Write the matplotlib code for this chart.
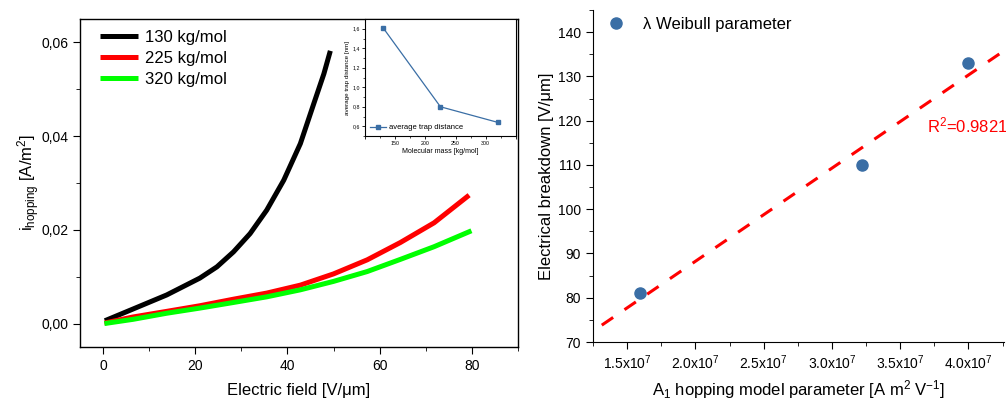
import numpy as np
import matplotlib
matplotlib.use("Agg")
import matplotlib.pyplot as plt
from matplotlib.ticker import MultipleLocator, FuncFormatter

plt.rcParams['font.family'] = ['Liberation Sans', 'DejaVu Sans']
plt.rcParams['mathtext.fontset'] = 'custom'
plt.rcParams['mathtext.rm'] = 'Liberation Sans'
plt.rcParams['mathtext.it'] = 'Liberation Sans:italic'
plt.rcParams['mathtext.bf'] = 'Liberation Sans:bold'

# hopping current vs field, one curve per molecular mass
field_130 = [0.4, 6.5, 13.8, 21.0, 24.7, 28.3, 31.9, 35.5, 39.2, 42.8, 45.7, 47.9, 49.3]
curr_130 = [0.0006, 0.0031, 0.0061, 0.0097, 0.0121, 0.0153, 0.0192, 0.0242,
            0.0306, 0.0384, 0.0469, 0.0533, 0.0582]
field_225 = [0.3, 6.5, 13.8, 21.0, 28.3, 35.5, 42.8, 50.0, 57.3, 64.5, 71.8, 79.4]
curr_225 = [0.0001, 0.0014, 0.0026, 0.0038, 0.0052, 0.0065, 0.0082, 0.0106,
            0.0136, 0.0173, 0.0215, 0.0274]
field_320 = [0.3, 6.5, 13.8, 21.0, 28.3, 35.5, 42.8, 50.0, 57.3, 64.5, 71.8, 79.9]
curr_320 = [0.0000, 0.0009, 0.0022, 0.0033, 0.0045, 0.0057, 0.0072, 0.0090,
            0.0111, 0.0137, 0.0164, 0.0198]
curve_labels = ['130 kg/mol', '225 kg/mol', '320 kg/mol']
curve_colors = ['#000000', '#ff0000', '#00ff00']

# inset: trap distance vs molecular mass
mol_mass = [130, 225, 320]
trap_dist = [1.61, 0.80, 0.64]

# breakdown field vs A1 parameter
a1_param = [1.595e7, 3.223e7, 4.0e7]
breakdown = [81, 110, 133]
r2_text = 'R$^2$=0.9821'

fig = plt.figure(figsize=(10.06, 4.01), dpi=100)

# ---- left panel ----
ax = fig.add_axes([0.0795, 0.1347, 0.4354, 0.818])
for xs, ys, lab, col in zip([field_130, field_225, field_320],
                            [curr_130, curr_225, curr_320],
                            curve_labels, curve_colors):
    ax.plot(xs, ys, color=col, lw=3.6, label=lab, solid_capstyle='butt',
            solid_joinstyle='round')
ax.set_xlim(-5, 90)
ax.set_ylim(-0.005, 0.065)
ax.xaxis.set_major_locator(MultipleLocator(20))
ax.xaxis.set_minor_locator(MultipleLocator(10))
ax.yaxis.set_major_locator(MultipleLocator(0.02))
ax.yaxis.set_minor_locator(MultipleLocator(0.01))
ax.yaxis.set_major_formatter(FuncFormatter(lambda v, p: f'{v:.2f}'.replace('.', ',')))
ax.tick_params(which='major', direction='out', length=5, labelsize=10)
ax.tick_params(which='minor', direction='out', length=3)
ax.set_xlabel('Electric field [V/μm]', fontsize=12, labelpad=7)
ax.set_ylabel(r'i$_{\mathrm{hopping}}$ [A/m$^2$]', fontsize=12, labelpad=-1)
for s in ax.spines.values():
    s.set_linewidth(1.0)
ax.legend(loc='upper left', bbox_to_anchor=(0.02, 1.0), frameon=False,
          fontsize=12, handlelength=2.3, handletextpad=0.45,
          labelspacing=0.36, borderaxespad=0.25)

# inset
ins = fig.add_axes([0.3628, 0.6608, 0.150, 0.2918])
ins.plot(mol_mass, trap_dist, color='#3a6ea5', lw=0.9, marker='s', ms=2.2,
         label='average trap distance')
ins.set_xlim(100, 350)
ins.set_ylim(0.5, 1.7)
ins.xaxis.set_major_locator(MultipleLocator(50))
ins.xaxis.set_minor_locator(MultipleLocator(25))
ins.yaxis.set_major_locator(MultipleLocator(0.2))
ins.yaxis.set_minor_locator(MultipleLocator(0.1))
ins.xaxis.set_major_formatter(FuncFormatter(
    lambda v, p: f'{v:.0f}' if 150 <= v <= 300 else ''))
ins.yaxis.set_major_formatter(FuncFormatter(lambda v, p: f'{v:.1f}'.replace('.', ',')))
ins.tick_params(which='major', direction='out', length=2, width=0.6,
                labelsize=3.8, pad=1.5)
ins.tick_params(which='minor', direction='out', length=1.2, width=0.5)
ins.set_xlabel('Molecular mass [kg/mol]', fontsize=5, labelpad=1.5)
ins.set_ylabel('average trap distance [nm]', fontsize=4.5, labelpad=2)
for s in ins.spines.values():
    s.set_linewidth(0.8)
ins.legend(loc='lower left', frameon=False, fontsize=5.5, handlelength=2.2,
           handletextpad=0.3, borderaxespad=0.2)

# ---- right panel ----
bx = fig.add_axes([0.5895, 0.1471, 0.4085, 0.828])
slope, icpt = np.polyfit(a1_param, breakdown, 1)
fit_x = np.array([1.314e7, 4.3e7])
bx.plot(fit_x, slope * fit_x + icpt, color='#ff0000', lw=2.2,
        linestyle=(0, (4.5, 4.5)), zorder=2)
bx.plot(a1_param, breakdown, linestyle='none', marker='o', ms=8,
        color='#3a6ea5', label='λ Weibull parameter', zorder=3)
bx.set_xlim(1.25e7, 4.26e7)
bx.set_ylim(70, 145)
bx.xaxis.set_major_locator(MultipleLocator(0.5e7))
bx.xaxis.set_minor_locator(MultipleLocator(0.25e7))
bx.yaxis.set_major_locator(MultipleLocator(10))
bx.yaxis.set_minor_locator(MultipleLocator(5))
bx.xaxis.set_major_formatter(FuncFormatter(lambda v, p: f'{v / 1e7:.1f}x10$^7$'))
bx.tick_params(which='major', direction='out', length=5, labelsize=10)
bx.tick_params(which='minor', direction='out', length=3)
bx.spines['top'].set_visible(False)
bx.spines['right'].set_visible(False)
bx.set_xlabel(r'A$_1$ hopping model parameter [A m$^2$ V$^{-1}$]', fontsize=12, labelpad=4)
bx.set_ylabel('Electrical breakdown [V/μm]', fontsize=12, labelpad=3)
bx.text(0.813, 0.652, r2_text, transform=bx.transAxes, color='#ff0000',
        fontsize=12, ha='left', va='center')
bx.legend(loc='upper left', bbox_to_anchor=(0.02, 1.0), frameon=False,
          fontsize=12, handlelength=1.0, handletextpad=1.1, borderaxespad=0.0)

fig.savefig('out.png', dpi=100)
